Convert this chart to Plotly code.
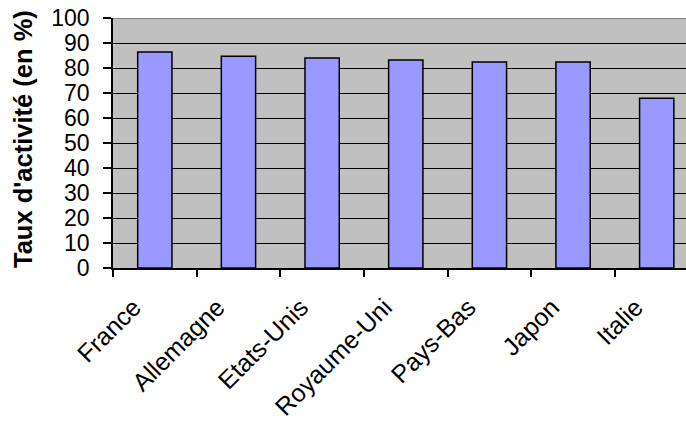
import plotly.graph_objects as go

categories = ["France", "Allemagne", "Etats-Unis", "Royaume-Uni", "Pays-Bas", "Japon", "Italie"]
values = [86.4, 84.7, 84.0, 83.2, 82.4, 82.4, 67.9]
y_ticks = [0, 10, 20, 30, 40, 50, 60, 70, 80, 90, 100]
y_title = "Taux d'activité (en %)"

FONT = "Liberation Sans, Arial, sans-serif"

fig = go.Figure()
fig.add_trace(go.Bar(
    x=categories, y=values,
    marker=dict(color="#9999FF", line=dict(color="black", width=1.5)),
    width=0.41,
))

fig.update_layout(
    width=686, height=421,
    margin=dict(l=113, r=0, t=18, b=153),
    paper_bgcolor="white", plot_bgcolor="#C0C0C0",
    showlegend=False,
    font=dict(family=FONT, size=23, color="black"),
)
fig.update_xaxes(
    type="category", range=[-0.5, 6.35],
    tickangle=-45, tickson="boundaries",
    ticks="outside", ticklen=7, tickcolor="black", tickwidth=1.5,
    showline=True, linecolor="black", linewidth=1.5,
    showgrid=False, tickfont=dict(size=25, family=FONT),
    ticklabelshift=-21, ticklabelstandoff=13,
)
fig.update_yaxes(
    range=[0, 100], tickvals=y_ticks,
    ticks="outside", ticklen=8, tickcolor="black", tickwidth=1.5,
    showline=True, linecolor="black", linewidth=1.5,
    showgrid=True, gridcolor="black", gridwidth=1.2,
    zeroline=False, tickfont=dict(size=23, family=FONT),
    ticklabelstandoff=9,
)
fig.add_shape(type="line", xref="paper", yref="y", x0=0, x1=1, y0=100, y1=100,
              line=dict(color="#808080", width=2), layer="above")
fig.add_annotation(
    text=y_title, textangle=-90, xref="paper", yref="paper",
    x=0, y=0.5, xanchor="center", yanchor="middle", xshift=-90, yshift=4,
    showarrow=False, font=dict(family=FONT, size=25.5, color="black", weight="bold"),
)

fig.write_html("out.html")
